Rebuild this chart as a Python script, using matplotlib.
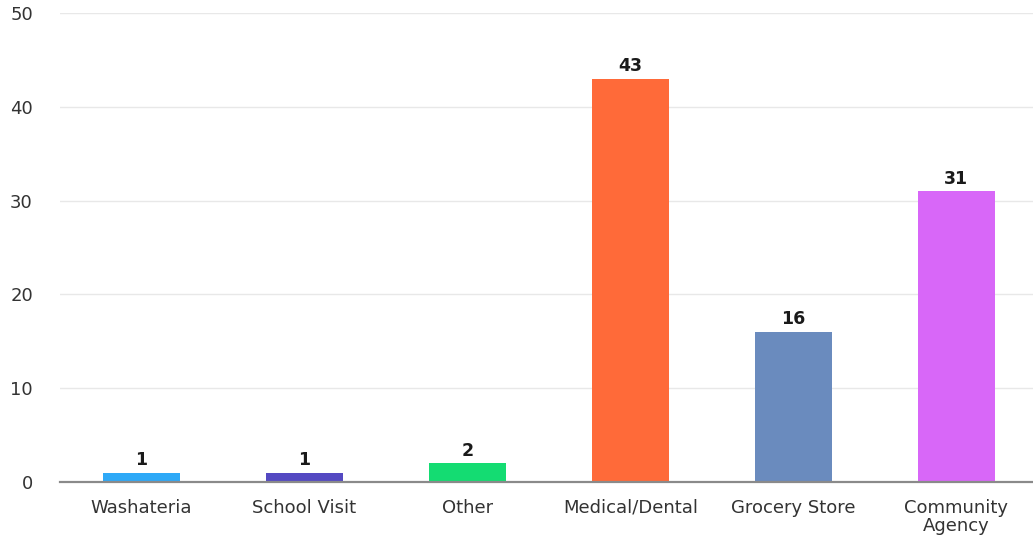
import matplotlib
matplotlib.use("Agg")
import matplotlib.pyplot as plt

categories = ["Washateria", "School Visit", "Other", "Medical/Dental", "Grocery Store", "Community\nAgency"]
counts = [1, 1, 2, 43, 16, 31]
colors = ["#2ea9f7", "#5449c2", "#14dc72", "#ff6a39", "#6a8bbe", "#d867f8"]
yticks = [0, 10, 20, 30, 40, 50]

plt.rcParams["font.family"] = ["DejaVu Sans"]

fig = plt.figure(figsize=(10.33, 5.35), dpi=100)
ax = fig.add_axes([60 / 1033, 53 / 535, 973 / 1033, 469 / 535])

x = list(range(len(categories)))
bars = ax.bar(x, counts, width=0.47, color=colors, zorder=3)

for xi, v in zip(x, counts):
    ax.annotate(str(v), (xi, v), xytext=(0, 2.5), textcoords="offset points",
                ha="center", va="bottom", fontsize=12.5, fontweight="bold", color="#1a1a1a")

ax.set_xlim(-0.5, 5.47)
ax.set_ylim(0, 50)
ax.set_yticks(yticks)
ax.set_xticks(x)
ax.set_xticklabels(categories, fontsize=13, color="#333333", linespacing=1.05)
ax.tick_params(axis="y", length=0, pad=19.5, labelsize=13, labelcolor="#333333")
ax.tick_params(axis="x", length=0, pad=12)
for lbl in ax.get_yticklabels():
    lbl.set_horizontalalignment("right")

ax.grid(axis="y", color="#e8e8e8", linewidth=1, zorder=0)
for s in ["top", "right", "left"]:
    ax.spines[s].set_visible(False)
ax.spines["bottom"].set_color("#8a8a8a")
ax.spines["bottom"].set_linewidth(1.6)
ax.spines["bottom"].set_zorder(4)

fig.savefig("out.png", dpi=100, facecolor="white")
